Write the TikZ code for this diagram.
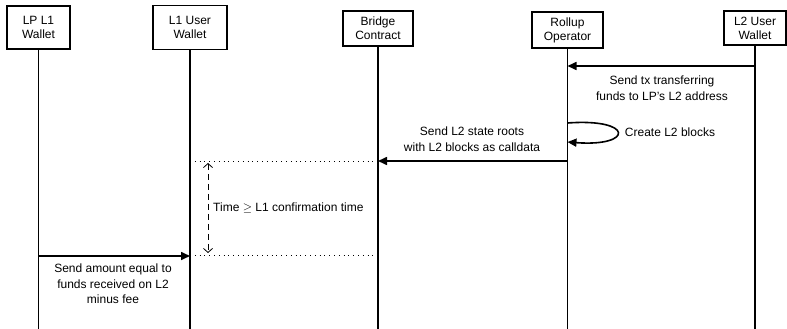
\documentclass[tikz,border=0pt]{standalone}
\usepackage{fontspec}
\setmainfont{Liberation Sans}
\usetikzlibrary{arrows.meta}
\begin{document}
\begin{tikzpicture}[x=1pt,y=-1pt,
  actor/.style={draw,line width=1.6pt,fill=white,align=center,inner sep=0pt,font=\fontsize{12}{14}\selectfont},
  life/.style={line width=1.6pt},
  msg/.style={line width=1.6pt,-{Triangle[length=9pt,width=8pt]}},
  lbl/.style={align=center,inner sep=0pt,font=\fontsize{12}{15.5}\selectfont},
  dots/.style={line width=0.8pt,dash pattern=on 0.8pt off 4pt},
  waitarrow/.style={line width=0.8pt,dash pattern=on 6pt off 4pt,{Straight Barb[length=4pt,width=9pt]}-{Straight Barb[length=4pt,width=9pt]}}
]
\useasboundingbox (0,0) rectangle (787,329);
\coordinate (bot) at (0,329);
% actors
\node[actor,minimum width=63pt,minimum height=43pt] (lp) at (38.5,27.5) {LP L1\\Wallet};
\node[actor,minimum width=74pt,minimum height=44pt] (l1u) at (190,27.5) {L1 User\\Wallet};
\node[actor,minimum width=70pt,minimum height=35pt] (bc) at (378,28.5) {Bridge\\Contract};
\node[actor,minimum width=71pt,minimum height=36pt] (rop) at (567.5,30) {Rollup\\Operator};
\node[actor,minimum width=62pt,minimum height=34pt] (l2u) at (755,28) {L2 User\\Wallet};
% lifelines
\foreach \n in {lp,l1u,bc,rop,l2u}{
  \draw[life] (\n.south) -- (\n.south |- bot);
}
% message 1
\draw[msg] (l2u |- 0,66) -- (rop |- 0,66);
\node[lbl] (t1) at (662,88) {Send tx transferring\\funds to LP's L2 address};
% self loop
\draw[msg] (rop |- 0,123) .. controls (634,118) and (634,147) .. (rop |- 0,142);
\node[lbl] (t2) at (670,132) {Create L2 blocks};
% message 2
\draw[msg] (rop |- 0,161) -- (bc |- 0,161);
\node[lbl] (t3) at (472,139) {Send L2 state roots\\with L2 blocks as calldata};
% dotted markers
\draw[dots] (l1u |- 0,161) -- (bc |- 0,161);
\draw[dots] (l1u |- 0,255) -- (bc |- 0,255);
% wait arrow
\coordinate (wa) at (208,163);
\coordinate (wb) at (208,253);
\draw[waitarrow] (wa) -- (wb);
\node[lbl,anchor=west] (t4) at (213,208) {Time $\geq$ L1 confirmation time};
% message 3
\draw[msg] (lp |- 0,256) -- (l1u |- 0,256);
\node[lbl] (t5) at (113,284) {Send amount equal to\\funds received on L2\\minus fee};
\end{tikzpicture}
\end{document}
